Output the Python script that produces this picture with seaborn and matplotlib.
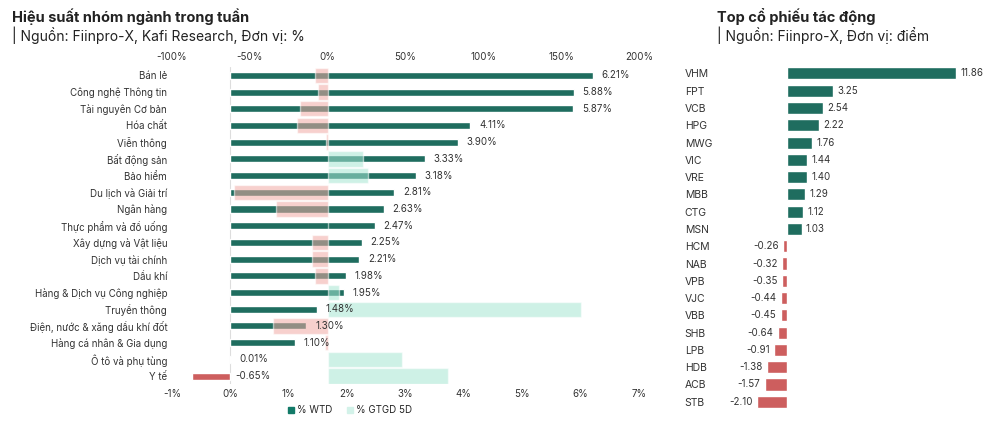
import matplotlib
matplotlib.use("Agg")
import matplotlib.pyplot as plt
import seaborn as sns
import numpy as np
import pandas as pd
from matplotlib.patches import Patch

sns.set_style("white")
plt.rcParams['font.family'] = ['Inter', 'DejaVu Sans']

# dữ liệu nhóm ngành
sectors = ["Bán lẻ", "Công nghệ Thông tin", "Tài nguyên Cơ bản", "Hóa chất", "Viễn thông",
           "Bất động sản", "Bảo hiểm", "Du lịch và Giải trí", "Ngân hàng", "Thực phẩm và đồ uống",
           "Xây dựng và Vật liệu", "Dịch vụ tài chính", "Dầu khí", "Hàng & Dịch vụ Công nghiệp",
           "Truyền thông", "Điện, nước & xăng dầu khí đốt", "Hàng cá nhân & Gia dụng",
           "Ô tô và phụ tùng", "Y tế"]
wtd = [6.21, 5.88, 5.87, 4.11, 3.90, 3.33, 3.18, 2.81, 2.63, 2.47,
       2.25, 2.21, 1.98, 1.95, 1.48, 1.30, 1.10, 0.01, -0.65]
gtgd_5d = [-8, -6, -18, -20, -1, 23, 26, -60, -33, 0,
           -10, -10, -8, 7, 163, -35, -2, 48, 77]

# dữ liệu cổ phiếu
tickers = ["VHM", "FPT", "VCB", "HPG", "MWG", "VIC", "VRE", "MBB", "CTG", "MSN",
           "HCM", "NAB", "VPB", "VJC", "VBB", "SHB", "LPB", "HDB", "ACB", "STB"]
impact = [11.86, 3.25, 2.54, 2.22, 1.76, 1.44, 1.40, 1.29, 1.12, 1.03,
          -0.26, -0.32, -0.35, -0.44, -0.45, -0.64, -0.91, -1.38, -1.57, -2.10]

TEAL = "#127a68"
RED = "#e04b4b"
LIGHT_TEAL = "#a6e6d3"
PINK = "#f2aaa4"
GREY = "#333333"

fig = plt.figure(figsize=(10, 4.32), dpi=100)

# ---- biểu đồ trái ----
ax = fig.add_axes([0.172, 0.11, 0.467, 0.735])
df = pd.DataFrame({"sector": sectors, "wtd": wtd})
sns.barplot(data=df, x="wtd", y="sector", ax=ax, orient="h", width=0.42,
            palette=[TEAL if v >= 0 else RED for v in wtd], hue="sector", legend=False)
ax.set_xlim(-1, 7)
ax.set_xticks(range(-1, 8))
ax.set_xticklabels([f"{v}%" for v in range(-1, 8)], fontsize=7, color=GREY)

# GTGD 5D vẽ đè lên, trong suốt
ax_top = ax.twiny()
y = np.arange(len(sectors))
ax_top.barh(y, gtgd_5d, height=0.92, alpha=0.55,
            color=[LIGHT_TEAL if v >= 0 else PINK for v in gtgd_5d], zorder=3)
ax_top.set_xlim(-100, 200)
ax_top.set_xticks([-100, -50, 0, 50, 100, 150, 200])
ax_top.set_xticklabels([f"{v}%" for v in [-100, -50, 0, 50, 100, 150, 200]], fontsize=7, color=GREY)

ax.set_ylim(len(sectors) - 0.5, -0.5)
ax_top.set_ylim(len(sectors) - 0.5, -0.5)
ax.set_xlabel("")
ax.set_ylabel("")
ax.tick_params(axis="y", labelsize=7, labelcolor=GREY, length=0)
ax.tick_params(axis="x", length=0)
ax_top.tick_params(axis="x", length=0)
ax.axvline(0, color="#dddddd", lw=0.8, zorder=0)
for a in (ax, ax_top):
    for s in a.spines.values():
        s.set_visible(False)

# nhãn giá trị vẽ trên ax_top (theo toạ độ của ax) để nằm trên cùng
for i, v in enumerate(wtd):
    if v >= 0:
        ax_top.text(v + 0.15, i, f"{v:.2f}%", va="center", ha="left", fontsize=7,
                    color=GREY, zorder=5, transform=ax.transData)
    else:
        # nhãn âm đặt bên phải trục 0 để không đè lên tên ngành
        ax_top.text(0.08, i, f"{v:.2f}%", va="center", ha="left", fontsize=7,
                    color=GREY, zorder=5, transform=ax.transData)

fig.legend(handles=[Patch(color=TEAL, label="% WTD"), Patch(color="#d3f2e9", label="% GTGD 5D")],
           loc="center", bbox_to_anchor=(0.35, 0.05), ncol=2, frameon=False, fontsize=7,
           handlelength=0.6, handleheight=0.6, columnspacing=1.5, handletextpad=0.3)

fig.text(0.012, 0.95, "Hiệu suất nhóm ngành trong tuần", fontsize=10.5, weight="bold", color="#222222")
fig.text(0.012, 0.905, "| Nguồn: Fiinpro-X, Kafi Research, Đơn vị: %", fontsize=10, color="#222222")

# ---- biểu đồ phải ----
ax2 = fig.add_axes([0.757, 0.05, 0.228, 0.80])
df2 = pd.DataFrame({"ticker": tickers, "impact": impact})
sns.barplot(data=df2, x="impact", y="ticker", ax=ax2, orient="h", width=0.7,
            palette=[TEAL if v >= 0 else RED for v in impact], hue="ticker", legend=False)
ax2.set_xlim(-2.1, 13.9)
ax2.set_ylim(len(tickers) - 0.5, -0.5)
ax2.set_xticks([])
ax2.set_xlabel("")
ax2.set_ylabel("")
ax2.tick_params(axis="y", labelsize=7.5, labelcolor=GREY, length=0, pad=52)
for lab in ax2.get_yticklabels():
    lab.set_ha("left")
for s in ax2.spines.values():
    s.set_visible(False)
for i, v in enumerate(impact):
    if v >= 0:
        ax2.text(v + 0.3, i, f"{v:.2f}", va="center", ha="left", fontsize=7, color=GREY)
    else:
        ax2.text(v - 0.3, i, f"{v:.2f}", va="center", ha="right", fontsize=7, color=GREY)

fig.text(0.717, 0.95, "Top cổ phiếu tác động", fontsize=10.5, weight="bold", color="#222222")
fig.text(0.717, 0.905, "| Nguồn: Fiinpro-X, Đơn vị: điểm", fontsize=10, color="#222222")

fig.savefig("out.png", dpi=100, facecolor="white")
